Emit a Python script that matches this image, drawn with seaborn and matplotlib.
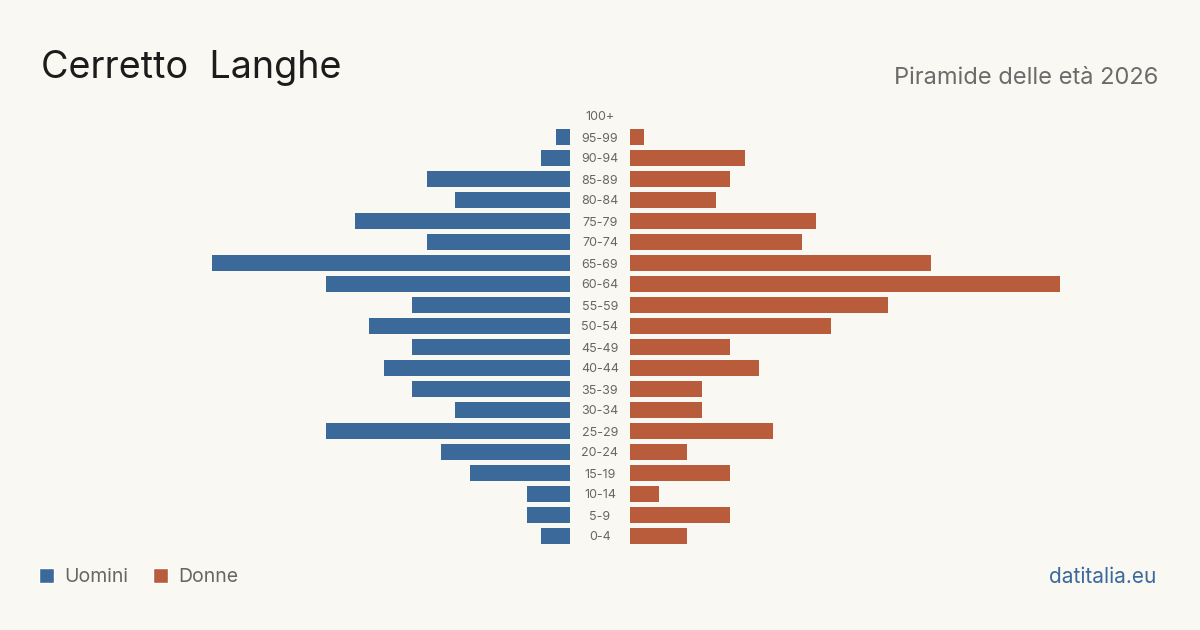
import numpy as np
import pandas as pd
import matplotlib.pyplot as plt
import seaborn as sns
from matplotlib.patches import Patch

# population by age group, top to bottom
ages = ['100+', '95-99', '90-94', '85-89', '80-84', '75-79', '70-74', '65-69',
        '60-64', '55-59', '50-54', '45-49', '40-44', '35-39', '30-34', '25-29',
        '20-24', '15-19', '10-14', '5-9', '0-4']
uomini = [0, 1, 2, 10, 8, 15, 10, 25, 17, 11, 14, 11, 13, 11, 8, 17, 9, 7, 3, 3, 2]
donne = [0, 1, 8, 7, 6, 13, 12, 21, 30, 18, 14, 7, 9, 5, 5, 10, 4, 7, 2, 7, 4]

bg = '#f9f8f3'
blue = '#3b6a9a'
orange = '#b85c3c'

sns.set_theme(style='white')
plt.rcParams['font.family'] = ['Inter', 'DejaVu Sans']

df = pd.DataFrame({'age': ages, 'Uomini': uomini, 'Donne': donne})

fig = plt.figure(figsize=(12, 6.3), dpi=100, facecolor=bg)
W, H = 1200, 630
px = 430 / 30          # pixels per person
span = 500 / px
bottom = 1 - 546.5 / H
height = 441 / H

ax_l = fig.add_axes([70 / W, bottom, 500 / W, height])
ax_r = fig.add_axes([630 / W, bottom, 500 / W, height])

sns.barplot(data=df, y='age', x='Uomini', orient='h', color=blue,
            width=0.77, saturation=1, linewidth=0, ax=ax_l)
sns.barplot(data=df, y='age', x='Donne', orient='h', color=orange,
            width=0.77, saturation=1, linewidth=0, ax=ax_r)

ax_l.set_xlim(span, 0)
ax_r.set_xlim(0, span)
for ax in (ax_l, ax_r):
    ax.set_facecolor('none')
    ax.set_ylim(len(ages) - 0.5, -0.5)
    ax.set_xlabel('')
    ax.set_ylabel('')
    ax.set_xticks([])
    for s in ax.spines.values():
        s.set_visible(False)

ax_l.set_yticks([])
ax_r.tick_params(axis='y', length=0, pad=30 * 72 / 100, labelsize=9, labelcolor='#666666')
for lab in ax_r.get_yticklabels():
    lab.set_ha('center')

fig.text(41 / W, 1 - 68 / H, 'Cerretto  Langhe', fontsize=27.2, color='#1c1c1c',
         ha='left', va='center')
fig.text(1158 / W, 1 - 78 / H, 'Piramide delle età 2026', fontsize=17,
         color='#6b6b6b', ha='right', va='center')
fig.text(1156 / W, 1 - 577 / H, 'datitalia.eu', fontsize=15, color=blue,
         ha='right', va='center')

handles = [Patch(facecolor=blue), Patch(facecolor=orange)]
fig.legend(handles, ['Uomini', 'Donne'], loc='center left',
           bbox_to_anchor=(39 / W, 1 - 577 / H), ncol=2, frameon=False,
           fontsize=14, labelcolor='#666666', handlelength=0.78,
           handleheight=0.78, handletextpad=0.5, columnspacing=1.3,
           borderpad=0, borderaxespad=0)

fig.savefig('out.png', dpi=100, facecolor=bg)
